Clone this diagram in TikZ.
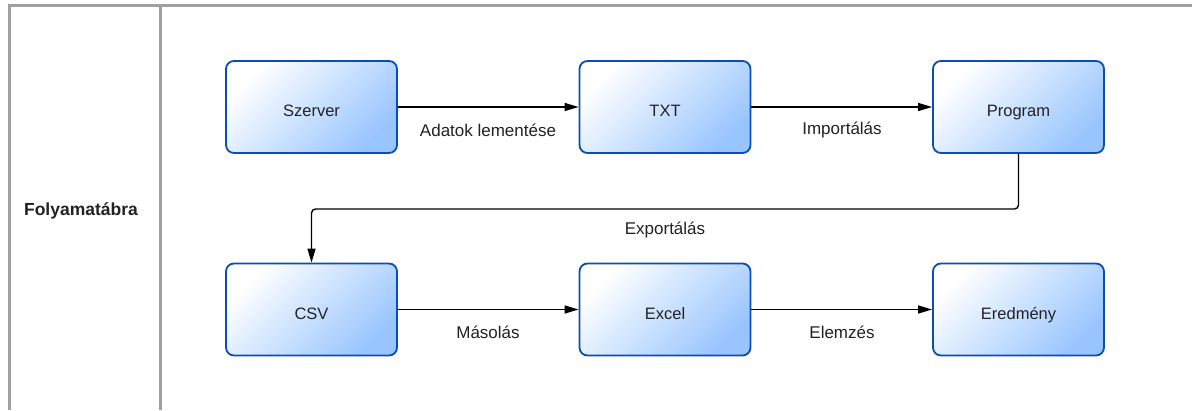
\documentclass[tikz,border=0pt]{standalone}
\usepackage{fontspec}
\setmainfont{Liberation Sans}
\usetikzlibrary{arrows.meta,positioning}
\definecolor{boxblue}{HTML}{0B4DB3}
\definecolor{boxfill}{HTML}{99C5FF}
\definecolor{framegray}{HTML}{A0A0A0}
\definecolor{txt}{HTML}{222222}
\newcommand{\boxtext}[1]{\raisebox{-9.5pt}[0pt][0pt]{#1}}
\tikzset{
  stepbox/.style={rectangle, rounded corners=8pt, draw=boxblue, line width=1.8pt,
    top color=white, bottom color=boxfill, shading angle=45,
    minimum width=171pt, minimum height=92pt, inner sep=0pt,
    font=\fontsize{16.5}{19}\selectfont, text=txt},
  flow/.style={line width=1.4pt, -{Triangle[length=14pt,width=8pt]}},
  lbl/.style={font=\fontsize{17}{19}\selectfont, text=txt, inner sep=0pt},
  frame/.style={draw=framegray, line width=3pt}
}
\begin{document}
\begin{tikzpicture}[x=1pt,y=-1pt]
\useasboundingbox (0,0) rectangle (1192,410);
\fill[white] (0,0) rectangle (1192,410);
\draw[frame] (9,410) -- (9,5) -- (1192,5);
\draw[frame] (160,5) -- (160,410);
\node[font=\bfseries\fontsize{17.5}{19}\selectfont, text=txt] (title) at (81,211) {Folyamatábra};

\node[stepbox] (szerver) at (311.5,107) {\boxtext{Szerver}};
\node[stepbox] (txt) at (665,107) {\boxtext{TXT}};
\node[stepbox] (program) at (1018.5,107) {\boxtext{Program}};
\node[stepbox] (csv) at (311.5,309.5) {\boxtext{CSV}};
\node[stepbox] (excel) at (665,309.5) {\boxtext{Excel}};
\node[stepbox] (eredmeny) at (1018.5,309.5) {\boxtext{Eredmény}};

\draw[flow] (szerver) -- (txt);
\draw[flow] (txt) -- (program);
\draw[flow] (csv) -- (excel);
\draw[flow] (excel) -- (eredmeny);
\coordinate (c1) at (1018.5,209);
\coordinate (c2) at (311.5,209);
\draw[flow, rounded corners=4pt] (program.south) -- (c1) -- (c2) -- (csv.north);

\node[lbl] (l1) at (488,130) {Adatok lementése};
\node[lbl] (l2) at (842,130) {Importálás};
\node[lbl] (l3) at (665,230) {Exportálás};
\node[lbl] (l4) at (488,332) {Másolás};
\node[lbl] (l5) at (842,332) {Elemzés};
\end{tikzpicture}
\end{document}
